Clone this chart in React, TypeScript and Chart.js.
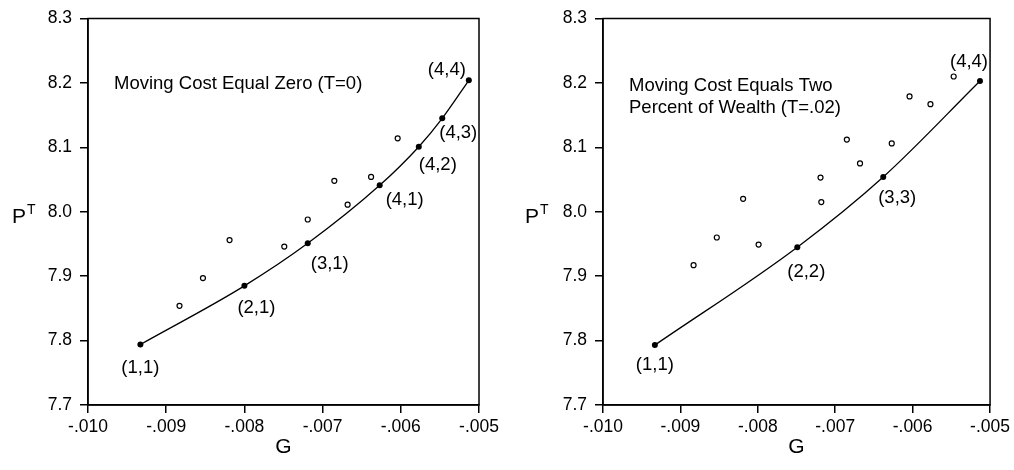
import React, { useEffect, useRef } from 'react';
import { Chart, registerables } from 'chart.js';

Chart.register(...registerables);

// ---------- data ----------
const xTickValues = [-0.01, -0.009, -0.008, -0.007, -0.006, -0.005];
const xTickLabels = ['-.010', '-.009', '-.008', '-.007', '-.006', '-.005'];
const yTickValues = [7.7, 7.8, 7.9, 8.0, 8.1, 8.2, 8.3];
const yTickLabels = ['7.7', '7.8', '7.9', '8.0', '8.1', '8.2', '8.3'];

// Left panel: moving cost zero (T=0)
const leftStateLabels = ['(1,1)', '(2,1)', '(3,1)', '(4,1)', '(4,2)', '(4,3)', '(4,4)'];
const leftStateG = [-0.00933, -0.008, -0.00719, -0.00627, -0.00577, -0.00547, -0.00513];
const leftStateP = [7.794, 7.885, 7.951, 8.041, 8.101, 8.145, 8.204];
const leftOtherG = [-0.00883, -0.00853, -0.00819, -0.00749, -0.00719, -0.00685, -0.00668, -0.00638, -0.00604];
const leftOtherP = [7.854, 7.897, 7.956, 7.946, 7.988, 8.048, 8.011, 8.054, 8.114];
const leftNote = ['Moving Cost Equal Zero (T=0)'];

// Right panel: moving cost two percent of wealth (T=.02)
const rightStateLabels = ['(1,1)', '(2,2)', '(3,3)', '(4,4)'];
const rightStateG = [-0.00933, -0.00749, -0.00638, -0.00513];
const rightStateP = [7.793, 7.945, 8.054, 8.203];
const rightOtherG = [-0.00883, -0.00853, -0.00819, -0.00799, -0.00719, -0.00718, -0.00685, -0.00668, -0.00627, -0.00604, -0.00577, -0.00547];
const rightOtherP = [7.917, 7.96, 8.02, 7.949, 8.053, 8.015, 8.112, 8.075, 8.106, 8.179, 8.167, 8.21];
const rightNote = ['Moving Cost Equals Two', 'Percent of Wealth (T=.02)'];

const xTitle = 'G';
const yTitleMain = 'P';
const yTitleSup = 'T';

// ---------- styles ----------
const FONT = '"Liberation Sans", Arial, Helvetica, sans-serif';
const leftLabelOffsets = [[0, 23], [12, 22], [22, 21], [25, 15], [19, 18], [16, 15], [-22, -10]];
const rightLabelOffsets = [[0, 20], [9, 25], [14, 21], [-11, -19]];

const decorPlugin = {
  id: 'decor',
  afterDraw(chart: any, _args: any, opts: any) {
    const { ctx, chartArea: a } = chart;
    ctx.save();
    ctx.strokeStyle = '#000';
    ctx.lineWidth = 1.5;
    ctx.strokeRect(a.left, a.top, a.right - a.left, a.bottom - a.top);

    ctx.fillStyle = '#000';
    ctx.font = `18.5px ${FONT}`;
    ctx.textAlign = 'center';
    ctx.textBaseline = 'middle';
    const meta = chart.getDatasetMeta(0);
    meta.data.forEach((pt: any, i: number) => {
      const [dx, dy] = opts.offsets[i];
      ctx.fillText(opts.labels[i], pt.x + dx, pt.y + dy);
    });

    ctx.textAlign = 'left';
    ctx.textBaseline = 'alphabetic';
    opts.note.forEach((line: string, i: number) => {
      ctx.fillText(line, a.left + opts.noteDx, a.top + opts.noteDy + i * 22.7);
    });

    ctx.font = `21px ${FONT}`;
    ctx.textAlign = 'center';
    ctx.fillText(xTitle, (a.left + a.right) / 2, 453);
    ctx.textAlign = 'left';
    ctx.fillText(yTitleMain, a.left + opts.yTitleDx, 223);
    ctx.font = `14px ${FONT}`;
    ctx.fillText(yTitleSup, a.left + opts.yTitleDx + 15, 214);
    ctx.restore();
  },
};

function makeConfig(
  stateG: number[], stateP: number[], otherG: number[], otherP: number[],
  labels: string[], offsets: number[][], note: string[],
  axisWidth: number, padRight: number, noteDy: number, yTitleDx: number
): any {
  return {
    type: 'scatter',
    data: {
      datasets: [
        {
          label: 'States',
          data: stateG.map((g, i) => ({ x: g, y: stateP[i] })),
          showLine: true,
          borderColor: '#000',
          borderWidth: 1.3,
          pointRadius: 3,
          pointBackgroundColor: '#000',
          pointBorderColor: '#000',
          pointBorderWidth: 0,
          cubicInterpolationMode: 'monotone',
        },
        {
          label: 'Other',
          data: otherG.map((g, i) => ({ x: g, y: otherP[i] })),
          showLine: false,
          pointRadius: 2.5,
          pointBackgroundColor: '#fff',
          pointBorderColor: '#000',
          pointBorderWidth: 1.2,
        },
      ],
    },
    options: {
      animation: false,
      responsive: false,
      devicePixelRatio: 1,
      layout: { padding: { left: 0, top: 15, right: padRight, bottom: 0 } },
      plugins: {
        legend: { display: false },
        tooltip: { enabled: false },
        decor: { labels, offsets, note, noteDx: 26, noteDy, yTitleDx },
      },
      scales: {
        x: {
          type: 'linear',
          min: -0.01,
          max: -0.005,
          afterBuildTicks: (s: any) => { s.ticks = xTickValues.map((v) => ({ value: v })); },
          afterFit: (s: any) => { s.height = 65; },
          ticks: {
            callback: (_v: any, i: number) => xTickLabels[i],
            font: { family: FONT, size: 17.5 },
            color: '#000',
            padding: 4,
            maxRotation: 0,
            autoSkip: false,
          },
          grid: { display: true, drawOnChartArea: false, drawTicks: true, tickLength: 8, color: '#000', lineWidth: 1.5 },
          border: { display: true, color: '#000', width: 1.5 },
        },
        y: {
          type: 'linear',
          min: 7.7,
          max: 8.3,
          afterBuildTicks: (s: any) => { s.ticks = yTickValues.map((v) => ({ value: v })); },
          afterFit: (s: any) => { s.width = axisWidth; },
          ticks: {
            callback: (_v: any, i: number) => yTickLabels[i],
            font: { family: FONT, size: 17.5 },
            color: '#000',
            padding: 8,
            autoSkip: false,
          },
          grid: { display: true, drawOnChartArea: false, drawTicks: true, tickLength: 8, color: '#000', lineWidth: 1.5 },
          border: { display: true, color: '#000', width: 1.5 },
        },
      },
    },
    plugins: [decorPlugin],
  };
}

function Panel({ build }: { build: () => any }) {
  const ref = useRef<HTMLCanvasElement>(null);
  useEffect(() => {
    const chart = new Chart(ref.current as HTMLCanvasElement, build());
    return () => chart.destroy();
  }, []);
  return <canvas ref={ref} width={507} height={470} style={{ display: 'block', width: 507, height: 470 }} />;
}

export default function App() {
  return (
    <div style={{ position: 'fixed', left: 0, top: 0, width: 1014, height: 470, display: 'flex', background: '#fff' }}>
      <Panel build={() => makeConfig(leftStateG, leftStateP, leftOtherG, leftOtherP, leftStateLabels, leftLabelOffsets, leftNote, 88, 28, 70, -76)} />
      <Panel build={() => makeConfig(rightStateG, rightStateP, rightOtherG, rightOtherP, rightStateLabels, rightLabelOffsets, rightNote, 96, 20, 72, -78)} />
    </div>
  );
}
